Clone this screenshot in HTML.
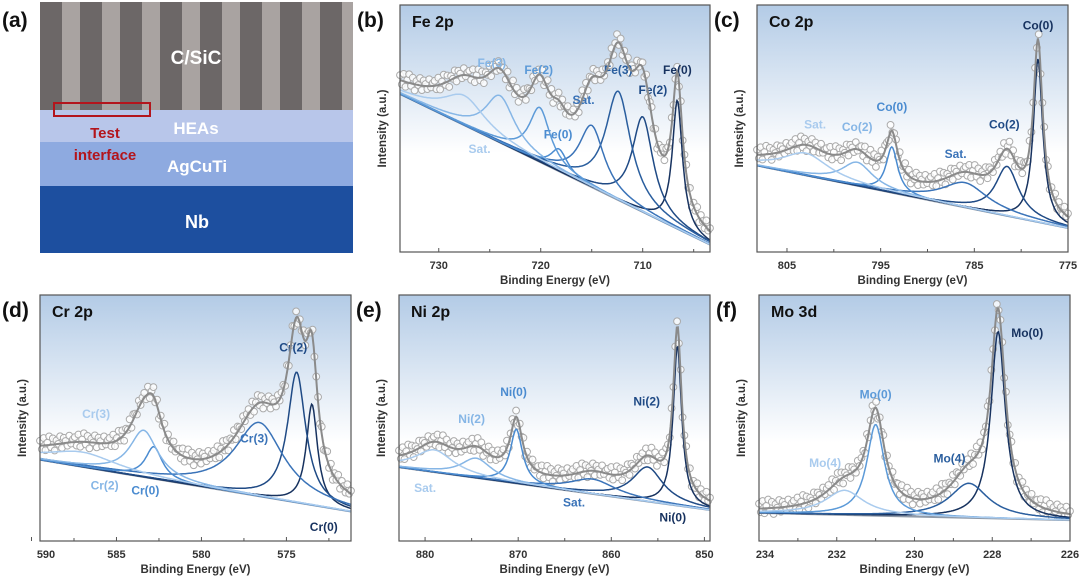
<!DOCTYPE html>
<html><head><meta charset="utf-8">
<style>
html,body{margin:0;padding:0;background:#fff;}
svg{display:block;font-family:"Liberation Sans",Arial,sans-serif;}
</style></head>
<body>
<svg id="fig" width="1080" height="578" viewBox="0 0 1080 578" xmlns="http://www.w3.org/2000/svg">
<defs>
<linearGradient id="bg" x1="0" y1="0" x2="0" y2="1">
<stop offset="0" stop-color="#b3cbe6"/><stop offset="0.6" stop-color="#ffffff"/><stop offset="1" stop-color="#ffffff"/>
</linearGradient>
</defs>
<g>
<text x="2" y="27" font-size="21" font-weight="bold" fill="#111">(a)</text>
<rect x="40" y="2" width="313" height="108" fill="#a9a3a1"/>
<g id="stripes"></g>
<rect x="40" y="110" width="313" height="32" fill="#b8c6ea"/>
<rect x="40" y="142" width="313" height="44" fill="#8eaae0"/>
<rect x="40" y="186" width="313" height="67" fill="#1d4f9f"/>
<rect x="54" y="103" width="96" height="13" fill="none" stroke="#b3151c" stroke-width="2"/>
<text x="196" y="64" font-size="19" font-weight="bold" fill="#fff" text-anchor="middle">C/SiC</text>
<text x="196" y="134" font-size="17" font-weight="bold" fill="#fff" text-anchor="middle">HEAs</text>
<text x="197" y="172" font-size="17" font-weight="bold" fill="#fff" text-anchor="middle">AgCuTi</text>
<text x="197" y="228" font-size="18" font-weight="bold" fill="#fff" text-anchor="middle">Nb</text>
<text x="105" y="138" font-size="15" font-weight="bold" fill="#b3151c" text-anchor="middle">Test</text>
<text x="105" y="160" font-size="15" font-weight="bold" fill="#b3151c" text-anchor="middle">interface</text>
</g>
<g id="charts"></g>
</svg>
<script>
// ===== data: peak centres (eV), heights (fraction of plot height), fwhm (eV) =====
const feCenters=[706.6,710.0,712.4,715.0,718.2,720.1,724.0,727.5];
const feHeights=[0.52,0.385,0.44,0.25,0.09,0.22,0.19,0.12];
const feWidths=[1.2,2.5,3.0,3.0,2.0,2.5,3.5,5.0];
const feBase=[0.64,0.03];
const feLabels=["Fe(0)","Fe(2)","Fe(3)","Sat.","Fe(0)","Fe(2)","Fe(3)","Sat."];
const feTicks=[730,720,710];

const coCenters=[778.2,781.5,786.0,793.8,797.5,803.0];
const coHeights=[0.66,0.20,0.10,0.185,0.095,0.09];
const coWidths=[1.2,3.0,6.0,1.5,4.0,6.0];
const coBase=[0.35,0.097];
const coLabels=["Co(0)","Co(2)","Sat.","Co(0)","Co(2)","Sat."];
const coTicks=[805,795,785,775];

const crCenters=[573.5,574.4,576.6,582.8,583.4,587.0];
const crHeights=[0.41,0.53,0.30,0.13,0.19,0.06];
const crWidths=[0.8,1.3,3.5,1.2,2.0,5.0];
const crBase=[0.33,0.12];
const crLabels=["Cr(0)","Cr(2)","Cr(3)","Cr(0)","Cr(2)","Cr(3)"];
const crTicks=[590,585,580,575];

const niCenters=[852.9,856.1,862.0,870.2,874.5,879.0];
const niHeights=[0.65,0.14,0.06,0.22,0.08,0.09];
const niWidths=[1.1,4.0,6.0,1.6,4.0,5.0];
const niBase=[0.30,0.126];
const niLabels=["Ni(0)","Ni(2)","Sat.","Ni(0)","Ni(2)","Sat."];
const niTicks=[880,870,860,850];

const moCenters=[227.85,228.6,231.0,231.8];
const moHeights=[0.76,0.14,0.37,0.10];
const moWidths=[0.45,1.2,0.55,1.2];
const moBase=[0.114,0.085];
const moLabels=["Mo(0)","Mo(4)","Mo(0)","Mo(4)"];
const moTicks=[234,232,230,228,226];

const panels=[
 {id:"b",title:"Fe 2p",x0:400,x1:710,y0:5,y1:252,eL:733.8,eR:703.4,c:feCenters,h:feHeights,w:feWidths,b:feBase,lab:feLabels,t:feTicks,minor:[725,715,705],
  lp:[[706.6,0.72],[709.0,0.64],[712.4,0.72],[715.8,0.6],[718.3,0.46],[720.2,0.72],[724.8,0.75],[726,0.4]]},
 {id:"c",title:"Co 2p",x0:757,x1:1068,y0:5,y1:252,eL:808.2,eR:775,c:coCenters,h:coHeights,w:coWidths,b:coBase,lab:coLabels,t:coTicks,minor:[800,790,780],
  lp:[[778.2,0.9],[781.8,0.5],[787,0.38],[793.8,0.57],[797.5,0.49],[802,0.5]]},
 {id:"d",title:"Cr 2p",x0:40,x1:351,y0:295,y1:541,eL:589.5,eR:571.2,c:crCenters,h:crHeights,w:crWidths,b:crBase,lab:crLabels,t:crTicks,minor:[587.5,582.5,577.5,572.5],
  lp:[[572.8,0.04],[574.6,0.77],[576.9,0.4],[583.3,0.19],[585.7,0.21],[586.2,0.5]]},
 {id:"e",title:"Ni 2p",x0:399,x1:710,y0:295,y1:541,eL:882.8,eR:849.4,c:niCenters,h:niHeights,w:niWidths,b:niBase,lab:niLabels,t:niTicks,minor:[875,865,855],
  lp:[[853.4,0.08],[856.2,0.55],[864,0.14],[870.5,0.59],[875,0.48],[880,0.2]]},
 {id:"f",title:"Mo 3d",x0:759,x1:1070,y0:295,y1:541,eL:234,eR:226,c:moCenters,h:moHeights,w:moWidths,b:moBase,lab:moLabels,t:moTicks,minor:[233,231,229,227],
  lp:[[227.1,0.83],[229.1,0.32],[231.0,0.58],[232.3,0.3]]}
];
const darkToLight=["#17325f","#1f4a85","#2a5e9e","#3a73b8","#4a8bd0","#5c9ad8","#86b6e6","#a9cbee"];
const offsets=[0.02,-0.015,0.03,-0.02,0.01,0.035,-0.01,0.025,-0.025,0.015,0.0,0.03,-0.018,0.022,0.008,-0.012,0.028,-0.005,0.012];

const NS="http://www.w3.org/2000/svg";
function mk(tag,attrs,parent){const e=document.createElementNS(NS,tag);for(const k in attrs)e.setAttribute(k,attrs[k]);parent.appendChild(e);return e;}

const sg=document.getElementById("stripes");
for(let x=40;x<353;x+=40){
 const r=mk("rect",{x:x,y:2,width:Math.min(22,353-x),height:108,fill:"#6c6767"},sg);
 
 
}

const root=document.getElementById("charts");
function lor(e,c,w){const g=w/2;return g*g/((e-c)*(e-c)+g*g);}
panels.forEach(p=>{
 const g=mk("g",{},root);
 
 
 const X=e=>p.x0+(p.eL-e)/(p.eL-p.eR)*(p.x1-p.x0);
 const Y=f=>p.y1-f*(p.y1-p.y0);
 const base=e=>p.b[1]+(p.b[0]-p.b[1])*(e-p.eR)/(p.eL-p.eR);
 const bgr=mk("rect",{x:p.x0,y:p.y0,width:p.x1-p.x0,height:p.y1-p.y0,fill:"url(#bg)"},g);
 
 
 const N=300;
 const env=e=>{let s=base(e);p.c.forEach((c,i)=>s+=p.h[i]*lor(e,p.c[i],p.w[i]));return s;};
 const pts=mk("g",{},g);
 
 
 const M=170;
 for(let i=0;i<=M;i++){
  const e=p.eL-(p.eL-p.eR)*i/M;
  const v=Math.min(0.99,env(e)*1.04+offsets[i%offsets.length]);
  const c=mk("circle",{cx:X(e),cy:Y(v),r:3.4,fill:"#fff","fill-opacity":0.8,stroke:"#aaaaaa","stroke-width":1},pts);
  
  
 }
 const bl=mk("line",{x1:X(p.eL),y1:Y(base(p.eL)),x2:X(p.eR),y2:Y(base(p.eR)),stroke:"#8f9aa8","stroke-width":2},g);
 
 
 p.c.forEach((c,i)=>{
  let d="";
  for(let k=0;k<=N;k++){const e=p.eL-(p.eL-p.eR)*k/N;d+=(k?"L":"M")+X(e).toFixed(1)+","+Y(base(e)+p.h[i]*lor(e,c,p.w[i])).toFixed(1);}
  const col=darkToLight[Math.min(7,Math.round(i*7/(p.c.length-1)))];
  const pk=mk("path",{d:d,fill:"none",stroke:col,"stroke-width":1.5},g);
  
  
  const lp=p.lp[i];
  const t=mk("text",{x:X(lp[0]),y:Y(lp[1]),"font-size":12,"font-weight":"bold",fill:col,"text-anchor":"middle"},g);
  t.textContent=p.lab[i];
  
  
 });
 let d="";
 for(let k=0;k<=N;k++){const e=p.eL-(p.eL-p.eR)*k/N;d+=(k?"L":"M")+X(e).toFixed(1)+","+Y(Math.min(0.99,env(e)*1.04)).toFixed(1);}
 const en=mk("path",{d:d,fill:"none",stroke:"#8a8a8a","stroke-width":2},g);
 
 
 const fr=mk("rect",{x:p.x0,y:p.y0,width:p.x1-p.x0,height:p.y1-p.y0,fill:"none",stroke:"#555","stroke-width":1.2},g);
 
 
 p.t.forEach(v=>{
  const tk=mk("line",{x1:X(v),y1:p.y1,x2:X(v),y2:p.y1-4,stroke:"#555"},g);
  
  
  const tl=mk("text",{x:Math.max(X(v),p.x0+6),y:p.y1+17,"font-size":11,"font-weight":"bold",fill:"#333","text-anchor":"middle"},g);
  tl.textContent=v;
  
  
 });
 p.minor.forEach(v=>{
  const tk=mk("line",{x1:X(v),y1:p.y1,x2:X(v),y2:p.y1-3,stroke:"#555"},g);
  
  
 });
 const xt=mk("text",{x:(p.x0+p.x1)/2,y:p.y1+32,"font-size":11.5,"font-weight":"bold",fill:"#333","text-anchor":"middle"},g);
 xt.textContent="Binding Energy (eV)";
 
 
 const yc=(p.y0+p.y1)/2, yx=p.x0-14;
 const yt=mk("text",{x:yx,y:yc,"font-size":11.5,"font-weight":"bold",fill:"#333","text-anchor":"middle",transform:"rotate(-90 "+yx+" "+yc+")"},g);
 yt.textContent="Intensity (a.u.)";
 
 
 const ti=mk("text",{x:p.x0+12,y:p.y0+22,"font-size":16,"font-weight":"bold",fill:"#111"},g);
 ti.textContent=p.title;
 
 
 const pl=mk("text",{x:Math.max(2,p.x0-43),y:p.y0+22,"font-size":21,"font-weight":"bold",fill:"#111"},g);
 pl.textContent="("+p.id+")";
 
 
});
</script>
</body></html>
